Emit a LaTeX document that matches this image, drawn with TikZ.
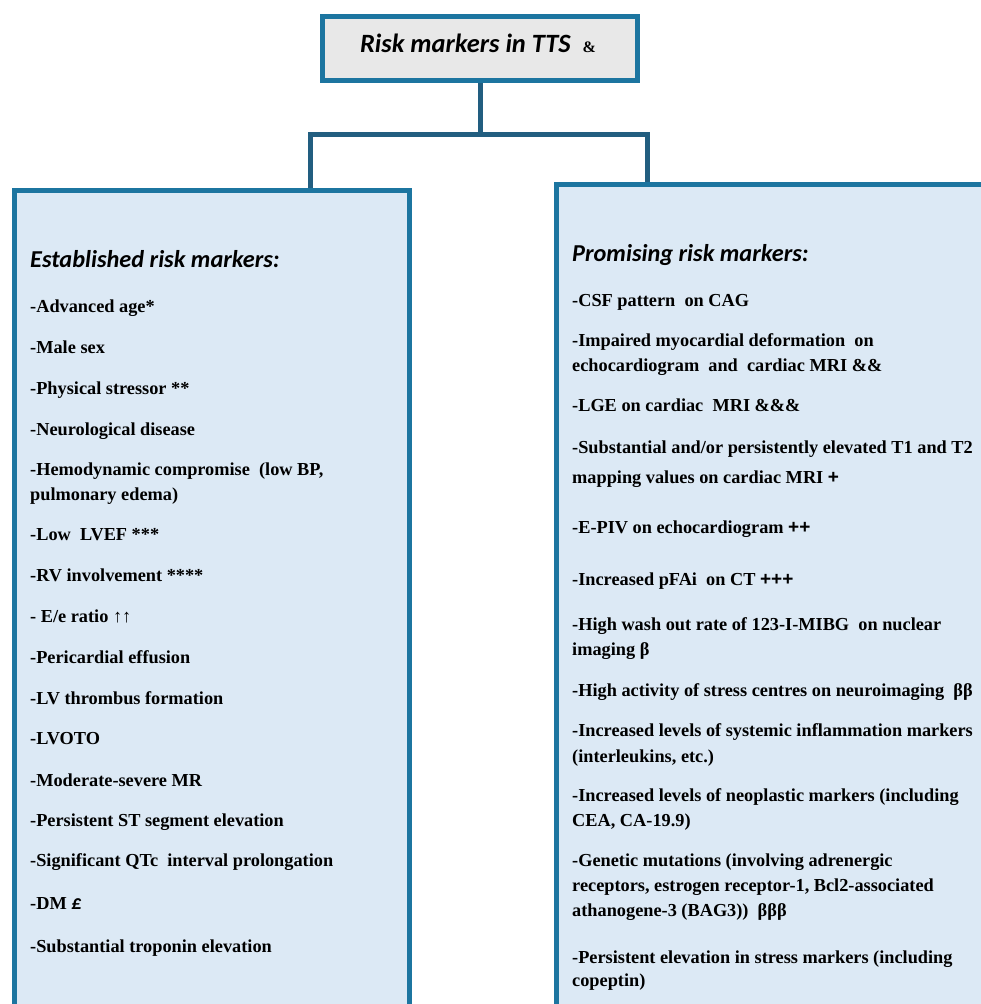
\documentclass[tikz,border=0pt]{standalone}
\usepackage{fontspec}
\setmainfont{Liberation Serif}
\newfontfamily\headfont{Carlito}
\newfontfamily\plusfont{Liberation Sans}
\definecolor{boxblue}{RGB}{28,117,160}
\definecolor{connblue}{RGB}{34,94,128}
\definecolor{boxfill}{RGB}{220,233,245}
\definecolor{titlefill}{RGB}{232,232,232}
\newcommand{\pls}[1]{{\plusfont\bfseries\fontsize{19}{22}\selectfont #1}}
\newcommand{\pound}{{\headfont\bfseries\itshape\fontsize{20}{22}\selectfont £}}
\newcommand{\upar}{{\mdseries ↑↑}}
\begin{document}
\begin{tikzpicture}[x=1pt,y=-1pt,
  panel/.style={draw=boxblue, line width=5pt, fill=boxfill, anchor=north west, inner sep=0pt},
  titlebox/.style={draw=boxblue, line width=5pt, fill=titlefill, anchor=north west, inner sep=0pt,
    minimum width=315pt, minimum height=64pt},
  conn/.style={draw=connblue, line width=5pt},
  head/.style={anchor=base west, inner sep=0pt, font=\headfont\bfseries\itshape\fontsize{24.3}{27}\selectfont},
  entry/.style={anchor=base west, inner sep=0pt, font=\bfseries\fontsize{18.3}{22}\selectfont}]
\useasboundingbox (0,0) rectangle (981,1004);
\clip (0,0) rectangle (981,1004);
% boxes
\node[panel, minimum width=395pt, minimum height=850pt] (lbox) at (12,188) {};
\node[panel, minimum width=450pt, minimum height=850pt] (rbox) at (554,182) {};
\node[titlebox] (title) at (320,14) {};
\node[anchor=base, inner sep=0pt, font=\headfont\bfseries\itshape\fontsize{26.4}{29}\selectfont] (ttext) at (478,52)
  {Risk markers in TTS\ \ {\rmfamily\upshape\bfseries\fontsize{16}{16}\selectfont\&}};
% connectors
\coordinate (lj) at (310.5,134.5);
\coordinate (rj) at (647,134.5);
\draw[conn] (title.south) -- (title.south |- lj);
\draw[conn] (lj |- lbox.north) -- (lj) -- (rj) -- (rj |- rbox.north);
% left column
\node[head] (lhead) at (30,267.3) {Established risk markers:};
\node[entry] (l1) at (30,312.7) {-Advanced age*};
\node[entry] (l2) at (30,353.3) {-Male sex};
\node[entry] (l3) at (30,394) {-Physical stressor **};
\node[entry] (l4) at (30,435) {-Neurological disease};
\node[entry] (l5a) at (30,475.7) {-Hemodynamic compromise\ \ (low BP,};
\node[entry] (l5b) at (30,500.7) {pulmonary edema)};
\node[entry] (l6) at (30,540) {-Low\ \ LVEF ***};
\node[entry] (l7) at (30,581) {-RV involvement ****};
\node[entry] (l8) at (30,622.7) {- E/e ratio \upar};
\node[entry] (l9) at (30,663.3) {-Pericardial effusion};
\node[entry] (l10) at (30,704) {-LV thrombus formation};
\node[entry] (l11) at (30,744.3) {-LVOTO};
\node[entry] (l12) at (30,786) {-Moderate-severe MR};
\node[entry] (l13) at (30,826) {-Persistent ST segment elevation};
\node[entry] (l14) at (30,866.7) {-Significant QTc\ \ interval prolongation};
\node[entry] (l15) at (30,909) {-DM \pound};
\node[entry] (l16) at (30,952.7) {-Substantial troponin elevation};
% right column
\node[head] (rhead) at (572,261) {Promising risk markers:};
\node[entry] (r1) at (572,306.7) {-CSF pattern\ \ on CAG};
\node[entry] (r2a) at (572,346) {-Impaired myocardial deformation\ \ on};
\node[entry] (r2b) at (572,371.7) {echocardiogram\ \ and\ \ cardiac MRI \&\&};
\node[entry] (r3) at (572,411.7) {-LGE on cardiac\ \ MRI \&\&\&};
\node[entry] (r4a) at (572,453.3) {-Substantial and/or persistently elevated T1 and T2};
\node[entry] (r4b) at (572,483.3) {mapping values on cardiac MRI \pls{+}};
\node[entry] (r5) at (572,533.3) {-E-PIV on echocardiogram \pls{++}};
\node[entry] (r6) at (572,585) {-Increased pFAi\ \ on CT \pls{+++}};
\node[entry] (r7a) at (572,630) {-High wash out rate of 123-I-MIBG\ \ on nuclear};
\node[entry] (r7b) at (572,655) {imaging β};
\node[entry] (r8) at (572,696) {-High activity of stress centres on neuroimaging\ \ ββ};
\node[entry] (r9a) at (572,736.7) {-Increased levels of systemic inflammation markers};
\node[entry] (r9b) at (572,762.3) {(interleukins, etc.)};
\node[entry] (r10a) at (572,801.7) {-Increased levels of neoplastic markers (including};
\node[entry] (r10b) at (572,826.7) {CEA, CA-19.9)};
\node[entry] (r11a) at (572,866.7) {-Genetic mutations (involving adrenergic};
\node[entry] (r11b) at (572,891.7) {receptors, estrogen receptor-1, Bcl2-associated};
\node[entry] (r11c) at (572,916) {athanogene-3 (BAG3))\ \ βββ};
\node[entry] (r12a) at (572,963.3) {-Persistent elevation in stress markers (including};
\node[entry] (r12b) at (572,986.7) {copeptin)};
\end{tikzpicture}
\end{document}
